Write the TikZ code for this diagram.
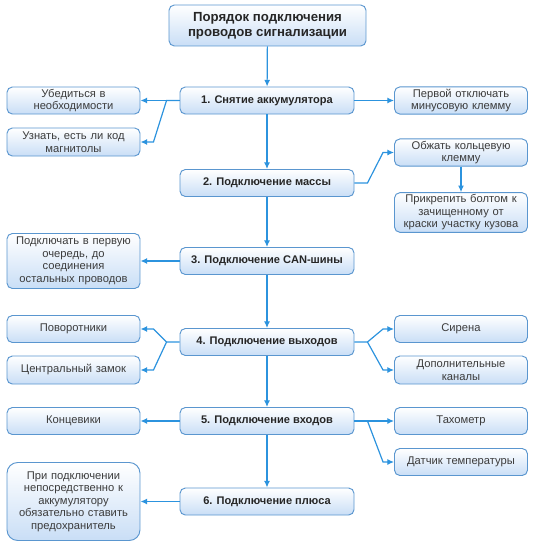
\documentclass[tikz,border=0pt]{standalone}
\usepackage{fontspec}
\setmainfont{Liberation Sans}
\usetikzlibrary{arrows.meta,calc}
\definecolor{boxline}{HTML}{5A96CF}
\definecolor{boxfill}{HTML}{C9DEF6}
\definecolor{linkblue}{HTML}{2C93DE}
\definecolor{notetext}{HTML}{3C3C3C}

\begin{document}
\begin{tikzpicture}[x=0.75pt,y=-0.75pt,
  box/.style={draw=boxline,line width=0.7pt,rounded corners=4pt,
    top color=white,bottom color=boxfill,align=center,inner sep=1.5pt},
  titlebox/.style={box,minimum width=147.75pt,minimum height=30.75pt,
    font=\fontsize{9.9}{11.4}\selectfont\bfseries,text=black!85},
  stepbox/.style={box,minimum width=130.5pt,minimum height=20.25pt,
    font=\fontsize{8.3}{9.4}\selectfont\bfseries,text=black!85},
  notebox/.style={box,text width=96.75pt,minimum height=20.25pt,
    font=\fontsize{8.4}{9.4}\selectfont,text=notetext},
  link/.style={draw=linkblue,line width=0.9pt,-{Latex[length=5pt,width=4.5pt]}}]
  \useasboundingbox (0,0) rectangle (533,542);

  % main chain
  \node[titlebox] (top) at (267.5,25.5) {Порядок подключения\\проводов сигнализации};
  \node[stepbox] (s1) at (267,100.5) {1. Снятие аккумулятора};
  \node[stepbox] (s2) at (267,183) {2. Подключение массы};
  \node[stepbox] (s3) at (267,261) {3. Подключение CAN-шины};
  \node[stepbox] (s4) at (267,342) {4. Подключение выходов};
  \node[stepbox] (s5) at (267,421) {5. Подключение входов};
  \node[stepbox] (s6) at (267,501.5) {6. Подключение плюса};

  % left notes
  \node[notebox] (l1a) at (73.5,100.5) {Убедиться в\\необходимости};
  \node[notebox,minimum height=21pt] (l1b) at (73.5,142) {Узнать, есть ли код\\магнитолы};
  \node[notebox,minimum height=41.25pt] (l3) at (73.5,261)
    {Подключать в первую\\очередь, до\\соединения\\остальных проводов};
  \node[notebox] (l4a) at (73.5,329) {Поворотники};
  \node[notebox,minimum height=21pt] (l4b) at (73.5,370) {Центральный замок};
  \node[notebox] (l5) at (73.5,421) {Концевики};
  \node[notebox,minimum height=58.5pt,rounded corners=8pt] (l6) at (73.5,501.5)
    {При подключении\\непосредственно к\\аккумулятору\\обязательно ставить\\предохранитель};

  % right notes
  \node[notebox] (r1) at (461,100.5) {Первой отключать\\минусовую клемму};
  \node[notebox] (r2a) at (461,152.5) {Обжать кольцевую\\клемму};
  \node[notebox,minimum height=29.25pt] (r2b) at (461,212.5)
    {Прикрепить болтом к\\зачищенному от\\краски участку кузова};
  \node[notebox] (r4a) at (461,329) {Сирена};
  \node[notebox,minimum height=21pt] (r4b) at (461,370) {Дополнительные\\каналы};
  \node[notebox] (r5a) at (461,421) {Тахометр};
  \node[notebox] (r5b) at (461,462) {Датчик температуры};

  % vertical arrows
  \draw[link] (top) -- (s1);
  \draw[link] (s1) -- (s2);
  \draw[link] (s2) -- (s3);
  \draw[link] (s3) -- (s4);
  \draw[link] (s4) -- (s5);
  \draw[link] (s5) -- (s6);
  \draw[link] (r2a) -- (r2b);

  % side arrows
  \draw[link] (s1.west) -- (l1a.east);
  \draw[link] (s1.west) -- ++(-13,0) -- ($(l1b.east)+(13,0)$) -- (l1b.east);
  \draw[link] (s1.east) -- (r1.west);
  \draw[link] (s2.east) -- ++(13,0) -- ($(r2a.west)+(-11,0)$) -- (r2a.west);
  \draw[link] (s3.west) -- (l3.east);
  \draw[link] (s4.west) -- ++(-13,0) coordinate (j4l) -- ($(l4a.east)+(13,0)$) -- (l4a.east);
  \draw[link] (j4l) -- ($(l4b.east)+(13,0)$) -- (l4b.east);
  \draw[link] (s4.east) -- ++(13,0) coordinate (j4r) -- ($(r4a.west)+(-11,0)$) -- (r4a.west);
  \draw[link] (j4r) -- ($(r4b.west)+(-11,0)$) -- (r4b.west);
  \draw[link] (s5.west) -- (l5.east);
  \draw[link] (s5.east) -- (r5a.west);
  \draw[link] (s5.east) -- ++(13,0) -- ($(r5b.west)+(-11,0)$) -- (r5b.west);
  \draw[link] (s6.west) -- (l6.east);
\end{tikzpicture}
\end{document}
